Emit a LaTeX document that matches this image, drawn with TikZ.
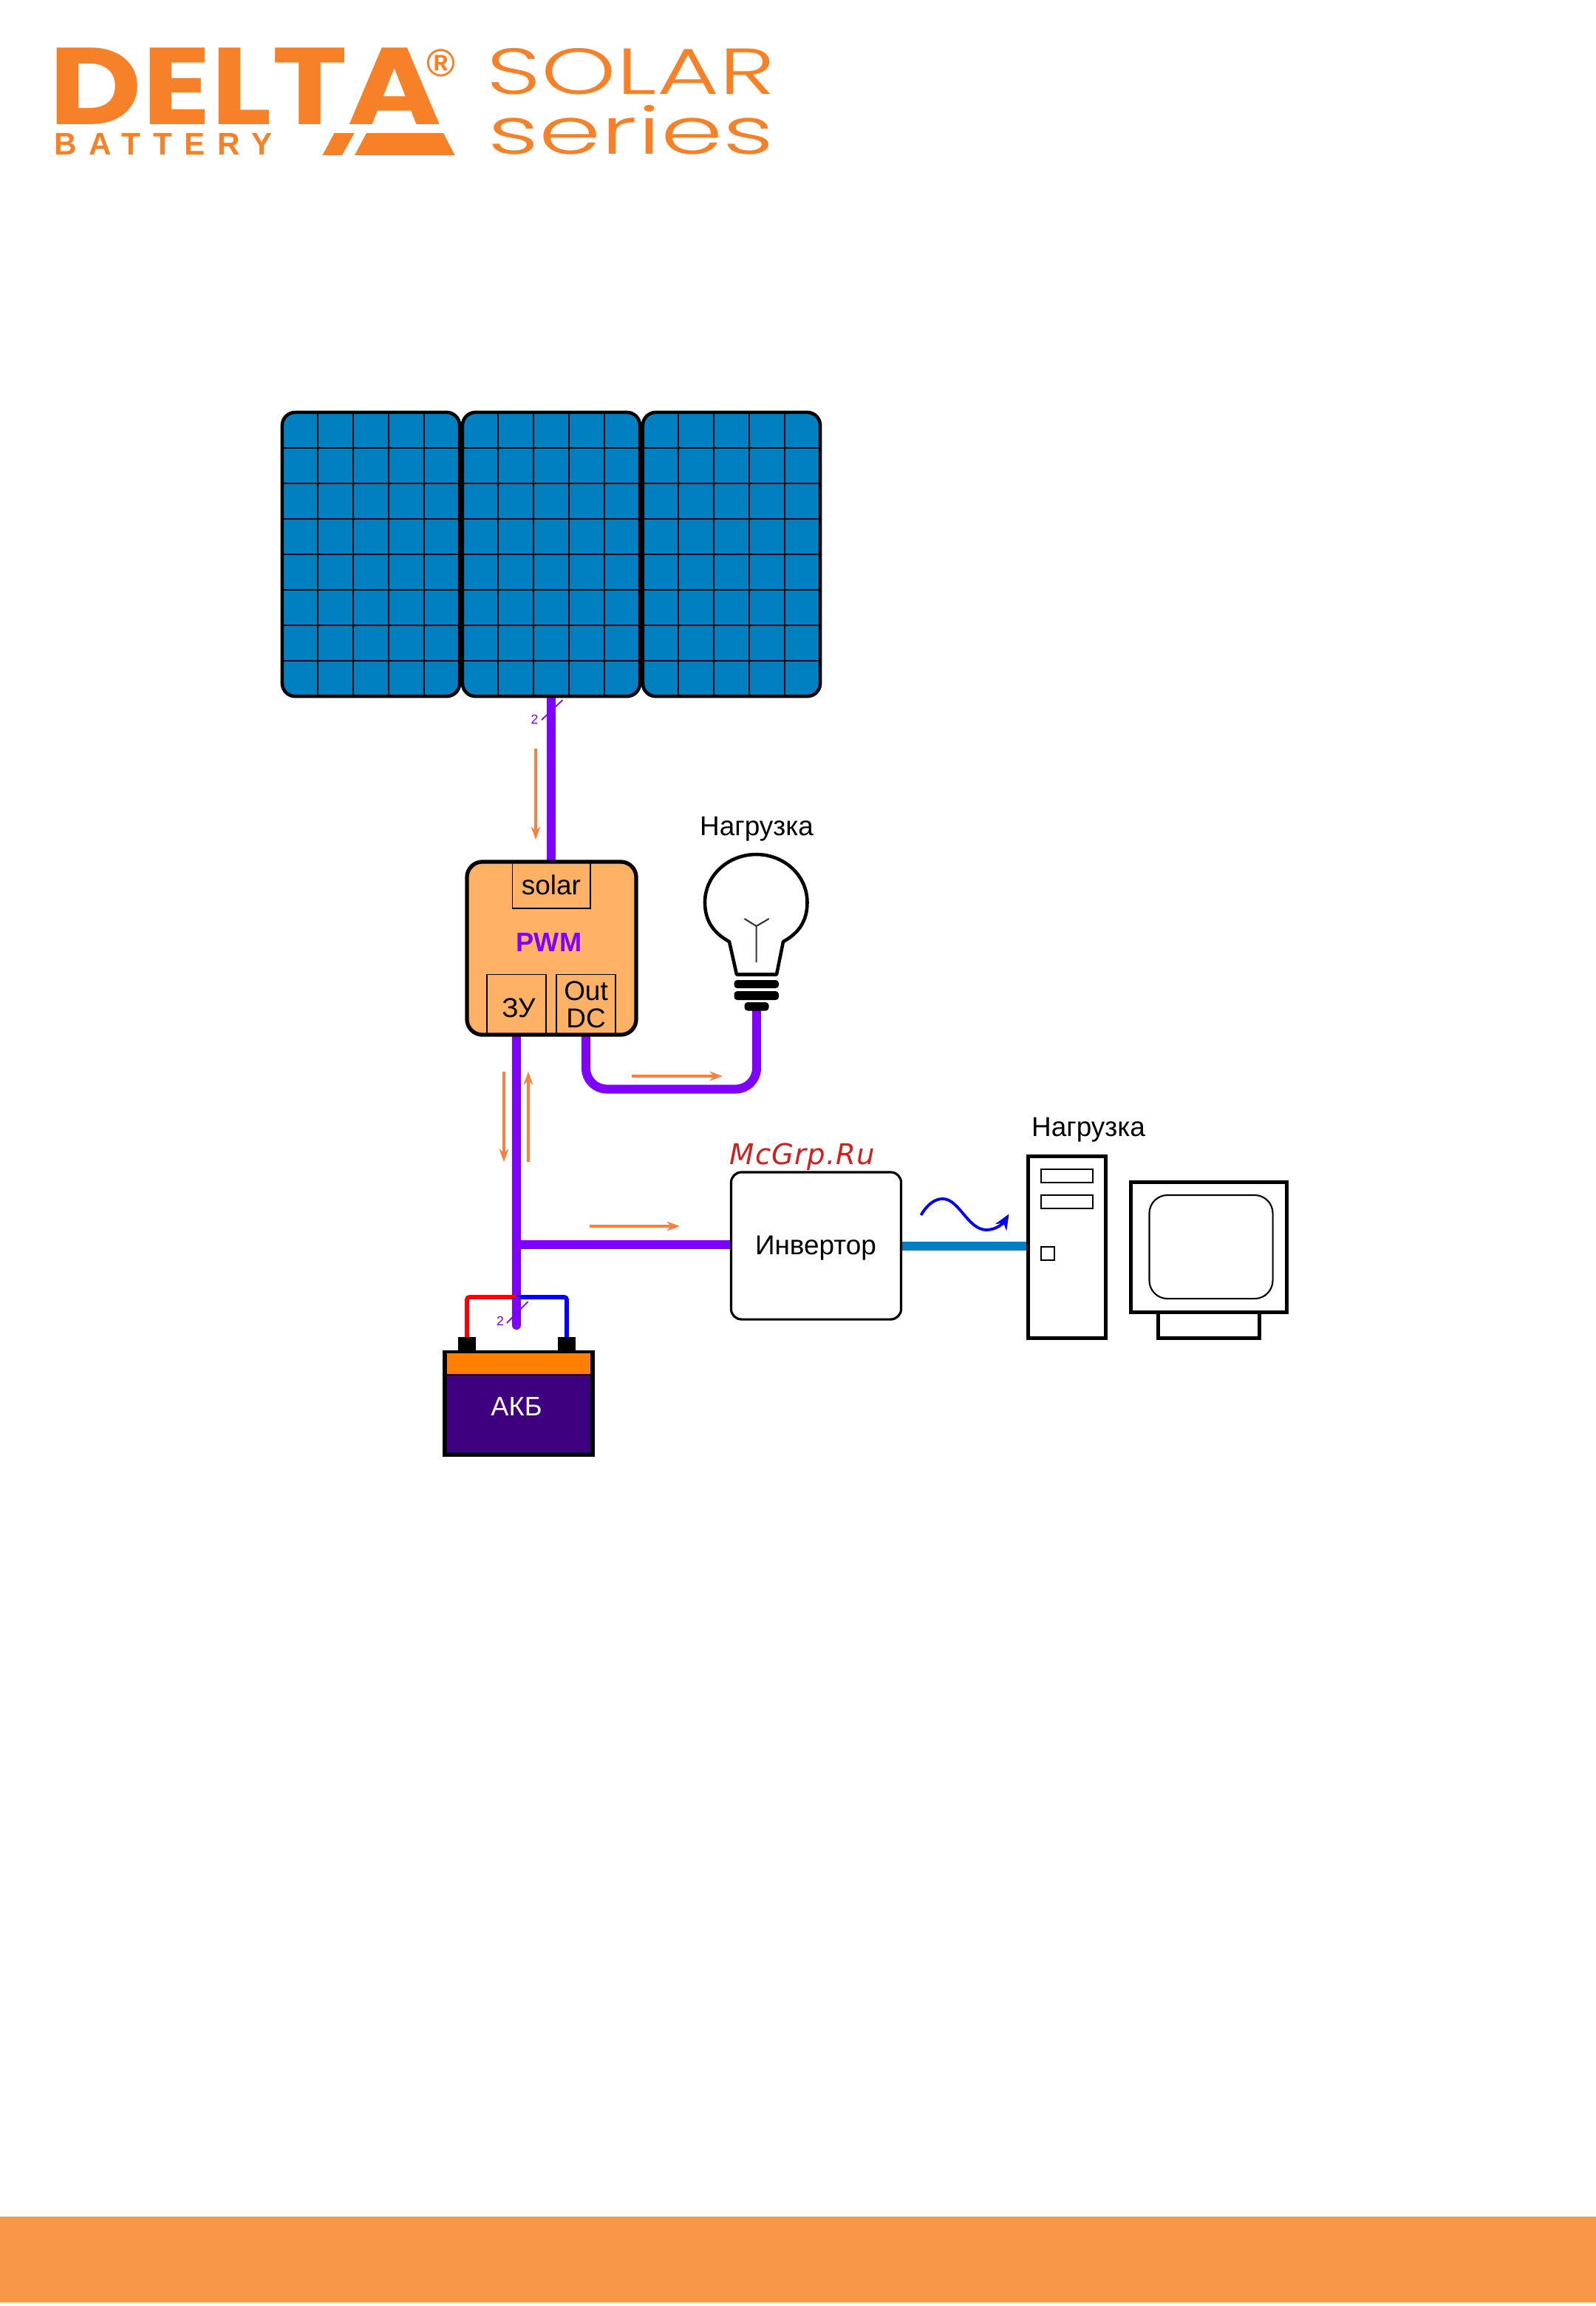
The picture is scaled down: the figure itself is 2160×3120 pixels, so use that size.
\documentclass[tikz,border=0pt]{standalone}
\usepackage{fontspec}
\setmainfont{Liberation Sans}
\newfontfamily\logoheavy{Poppins}
\newfontfamily\logolight{Poppins Light}
\newfontfamily\logowide[LetterSpace=40]{Liberation Sans}
\newfontfamily\markfont[LetterSpace=3]{DejaVu Sans}
\usetikzlibrary{arrows.meta,calc,backgrounds}
\definecolor{logoorange}{HTML}{F78128}
\definecolor{barorange}{HTML}{F79747}
\definecolor{cellblue}{HTML}{0080C0}
\definecolor{wirepurple}{HTML}{7F00FF}
\definecolor{flowarrow}{HTML}{FF7F3F}
\definecolor{boxorange}{HTML}{FFB266}
\definecolor{akbviolet}{HTML}{3F007F}
\definecolor{lidorange}{HTML}{FF7F00}
\definecolor{markred}{HTML}{CC2222}
\newcommand{\textsize}{\fontsize{10.5pt}{11pt}\selectfont}
\tikzset{
  panel/.style={draw,fill=cellblue,line width=1.3pt,rounded corners=5pt,
    minimum width=2.4cm,minimum height=3.84cm},
  cell/.style={line width=0.6pt},
  wire/.style={wirepurple,line width=3.4pt},
  flow/.style={->,flowarrow,line width=1.05pt},
  tick/.style={wirepurple,line width=0.5pt},
  smallbox/.style={draw,line width=0.55pt,align=center},
  heavyline/.style={draw,line width=1.5pt},
  thinbox/.style={draw,line width=0.6pt},
  label/.style={font=\textsize}
}
\begin{document}
\begin{tikzpicture}[x=0.01cm,y=-0.01cm,every node/.style={inner sep=0pt,outer sep=0pt},
      >={Stealth[length=5pt,width=3.6pt]}]
  \useasboundingbox(0,0)rectangle(2160,3120);
  % logo
  \node(delta)[logoorange,font=\logoheavy\bfseries\fontsize{42pt}{42pt}\selectfont,xscale=1.17,text depth=0pt,anchor=south]at(332,168){DELTA};
  \node(battery)[logoorange,font=\logowide\bfseries\fontsize{12pt}{12pt}\selectfont,anchor=west]at(73,195){BATTERY};
  \fill[logoorange](436.5,210)--(463,210)--(479.6,180)--(452.5,180)--cycle;
  \fill[logoorange](480,210)--(615.6,210)--(600,180)--(496,180)--cycle;
  \node(regmark)[logoorange,font=\bfseries\fontsize{15pt}{15pt}\selectfont]at(597,85){®};
  \node(solar)[logoorange,font=\logolight\fontsize{25pt}{25pt}\selectfont,xscale=1.47]at(854,97){SOLAR};
  \node(series)[logoorange,font=\logolight\fontsize{25pt}{25pt}\selectfont,xscale=1.54]at(854,176){series};
  % panels
  \node(panela)[panel]at(502,750){};
  \node(panelb)[panel]at(746,750){};
  \node(panelc)[panel]at(990,750){};
  \foreach \p in {panela,panelb,panelc}{
    \foreach \i in {1,...,4}
      \draw[cell]($(\p.north west)+(\i*48,0)$)--($(\p.south west)+(\i*48,0)$);
    \foreach \j in {1,...,7}
      \draw[cell]($(\p.north west)+(0,\j*48)$)--($(\p.north east)+(0,\j*48)$);
  }
  % controller
  \node(pwm)[heavyline,fill=boxorange,rounded corners=6pt,minimum width=2.29cm,minimum height=2.34cm]at(746.5,1283){};
  \node(solarbox)[smallbox,minimum width=1.05cm,minimum height=0.64cm,font=\textsize]at(746,1197){solar};
  \node(pwmtext)[wirepurple,font=\bfseries\fontsize{10.3pt}{11pt}\selectfont]at(743,1275.5){PWM};
  \node(zubox)[smallbox,minimum width=0.8cm,minimum height=0.81cm]at(699,1359){};
  \node(zutext)[label]at(702,1364){ЗУ};
  \node(outbox)[smallbox,minimum width=0.8cm,minimum height=0.81cm,font=\textsize,align=center]at(793,1359){Out\\[-0.6pt]DC};
  % lamp
  \node(lampload)[label]at(1024,1122){Нагрузка};
  \draw[line width=1.3pt,line join=round](997,1318.5)--(987,1274)
    .. controls (965,1262) and (954,1245) .. (954,1221)
    .. controls (954,1184) and (986,1156) .. (1023.5,1156)
    .. controls (1061,1156) and (1092.5,1184) .. (1092.5,1221)
    .. controls (1092.5,1245) and (1082,1262) .. (1060,1274)--(1051,1318.5)--cycle;
  \draw[line width=0.6pt,black!80](1023.6,1302)--(1023.6,1253)--(1007.5,1243)(1023.6,1253)--(1040.7,1243);
  \foreach \xa/\ya/\xb/\yb in {993.5/1326/1054/1337,993.5/1341/1054/1353,1007.5/1356/1040.5/1367.5}
    \fill[rounded corners=1.2pt](\xa,\ya)rectangle(\xb,\yb);
  \coordinate(lampfoot)at(1024,1367);
  % battery
  \node(akb)[heavyline,fill=akbviolet,minimum width=2.0cm,minimum height=1.38cm]at(702,1899){};
  \node(lid)[fill=lidorange,draw,line width=0.5pt,minimum width=1.96cm,minimum height=0.3cm,anchor=north]at(akb.north){};
  \node(akbtext)[white,font=\fontsize{10.3pt}{11pt}\selectfont]at(699,1903.5){АКБ};
  \node(posterm)[fill,minimum width=0.24cm,minimum height=0.19cm]at(632,1818.5){};
  \node(negterm)[fill,minimum width=0.24cm,minimum height=0.19cm]at(767,1818.5){};
  % inverter
  \node(inverter)[draw,line width=0.9pt,rounded corners=4pt,minimum width=2.3cm,minimum height=1.99cm]at(1104.5,1685.5){};
  \node(invtext)[label]at(1104,1688.5){Инвертор};
  \node(mark)[markred,font=\markfont\itshape\fontsize{11pt}{11pt}\selectfont]at(1086,1565){McGrp.Ru};
  % computer
  \node(pcload)[label]at(1473,1529){Нагрузка};
  \node(tower)[heavyline,minimum width=1.05cm,minimum height=2.46cm]at(1444,1687.5){};
  \node(slota)[thinbox,minimum width=0.7cm,minimum height=0.18cm]at(1444,1591){};
  \node(slotb)[thinbox,minimum width=0.7cm,minimum height=0.18cm]at(1444,1626){};
  \node(button)[thinbox,minimum width=0.18cm,minimum height=0.18cm]at(1418,1696){};
  \node(monitor)[heavyline,minimum width=2.11cm,minimum height=1.76cm]at(1636,1687.5){};
  \node(screen)[thinbox,rounded corners=7pt,minimum width=1.67cm,minimum height=1.4cm]at(1639,1687){};
  \node(stand)[heavyline,minimum width=1.37cm,minimum height=0.35cm,anchor=north]at(monitor.south){};
  % wires
  \coordinate(akbfeed)at(699,1793);
  \coordinate(feedtop)at(699,1755);
  \begin{scope}[on background layer]
    \draw[wire](panelb.south)--(pwm.north-|panelb.south);
    \draw[wire,line cap=round](pwm.south-|zubox.south)--(akbfeed);
    \draw[wire,rounded corners=8pt](pwm.south-|outbox.south)--(outbox.south|-0,1473.5)--(lampfoot|-0,1473.5)--(lampfoot);
    \draw[wire](inverter.west|-0,1684)--(akbfeed|-0,1684);
    \draw[cellblue,line width=3.4pt](inverter.east)--(tower.west|-inverter.east);
    \draw[red,line width=1.7pt,rounded corners=1pt](posterm.north)--(posterm.north|-feedtop)--(feedtop);
    \draw[blue,line width=1.7pt,rounded corners=1pt](negterm.north)--(negterm.north|-feedtop)--(feedtop);
  \end{scope}
  \draw[wire](feedtop)--(akbfeed);
  % tick marks
  \node(tworun)[wirepurple,font=\fontsize{5pt}{5pt}\selectfont]at(723.5,973.5){2};
  \coordinate(ticka)at(733,974);
  \coordinate(tickb)at(761.5,947);
  \node(twoakb)[wirepurple,font=\fontsize{5pt}{5pt}\selectfont]at(677,1787){2};
  \coordinate(tickc)at(686,1790);
  \coordinate(tickd)at(714.5,1761);
  \begin{scope}[on background layer]
    \draw[tick](ticka)--(tickb);
  \end{scope}
  \draw[tick](tickc)--(tickd);
  % flow arrows
  \coordinate(flowsa)at(725,1013);\coordinate(flowsb)at(725,1136);
  \coordinate(flowda)at(855,1456);\coordinate(flowdb)at(978,1456);
  \coordinate(flowba)at(682,1450);\coordinate(flowbb)at(682,1572);
  \coordinate(flowua)at(715,1572);\coordinate(flowub)at(715,1450);
  \coordinate(flowia)at(798,1659);\coordinate(flowib)at(920,1659);
  \draw[flow](flowsa)--(flowsb);
  \draw[flow](flowda)--(flowdb);
  \draw[flow](flowba)--(flowbb);
  \draw[flow](flowua)--(flowub);
  \draw[flow](flowia)--(flowib);
  \coordinate(wavea)at(1246.5,1644);
  \coordinate(waveb)at(1365.5,1642.5);
  \draw[->,blue,line width=1.1pt,>={Stealth[length=6pt,width=5pt]}](wavea)
    .. controls (1256,1628) and (1266,1622) .. (1276,1622)
    .. controls (1298,1622) and (1310,1664) .. (1335,1664)
    .. controls (1348,1664) and (1358,1655) .. (waveb);
  % footer
  \fill[barorange](0,2999)rectangle(2160,3114.7);
\end{tikzpicture}
\end{document}
